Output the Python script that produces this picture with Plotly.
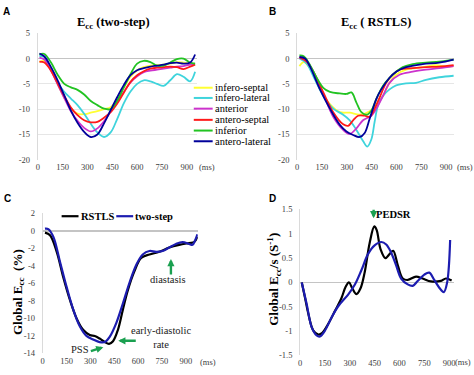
import plotly.graph_objects as go

W, H = 474, 375

# ---------------- Data ----------------
# Panel A : Ecc (two-step), per segment (ms, %)
a_ms = [10, 40, 80, 120, 160, 200, 240, 280, 320, 360, 400, 440, 480, 520, 560, 600, 640, 680, 720, 760, 800, 840, 880, 920, 950]
a_septal = [-0.7, -0.5, -2.2, -5.0, -7.7, -9.8, -10.9, -11.0, -10.7, -10.4, -10.0, -9.6, -8.0, -5.7, -3.6, -2.3, -1.7, -1.4, -1.3, -1.2, -1.0, -0.7, -0.8, -1.0, -1.1]
a_inflat = [0.5, 0.3, -2.0, -4.8, -6.6, -7.9, -9.2, -10.9, -12.9, -14.6, -15.5, -14.6, -11.9, -8.8, -6.5, -5.0, -4.3, -4.5, -5.0, -5.4, -4.3, -3.1, -3.6, -4.5, -2.6]
a_anterior = [0.2, -0.2, -2.4, -5.1, -7.8, -10.4, -12.3, -13.7, -14.4, -13.8, -12.4, -10.5, -8.6, -6.6, -4.7, -3.5, -2.7, -2.4, -2.2, -2.0, -1.8, -1.6, -1.5, -1.2, -1.0]
a_anteroseptal = [-0.6, -0.8, -2.4, -4.9, -7.4, -9.7, -11.2, -12.2, -12.6, -12.5, -11.7, -10.6, -8.9, -6.7, -4.6, -3.3, -2.5, -2.0, -1.8, -1.7, -1.6, -1.7, -2.1, -1.6, -1.2]
a_inferior = [0.8, 0.9, -0.8, -3.2, -5.0, -5.7, -6.2, -7.1, -8.4, -9.2, -9.9, -10.0, -8.3, -5.7, -3.1, -1.0, -0.45, -0.7, -1.4, -1.4, -0.8, -0.1, 0.0, -0.8, -1.0]
a_anterolateral = [1.0, 0.4, -1.7, -4.3, -7.3, -10.3, -12.7, -14.5, -15.5, -15.0, -12.8, -10.2, -7.6, -5.2, -3.3, -2.3, -1.9, -1.6, -1.4, -1.2, -0.9, -0.8, -1.0, -0.8, 0.8]

# Panel B : Ecc (RSTLS)
b_septal_ms = [14, 40, 78, 138, 198, 258, 318, 378, 438, 478, 518, 558, 598, 658, 758, 838, 898, 945]
b_septal = [-1.5, -0.7, -1.9, -6.1, -9.0, -10.6, -10.7, -11.1, -10.4, -9.0, -7.4, -4.8, -3.2, -2.2, -1.7, -1.3, -1.6, -1.5]
b_inflat_ms = [14, 58, 98, 158, 218, 278, 318, 358, 398, 424, 448, 468, 488, 518, 558, 598, 658, 718, 778, 858, 945]
b_inflat = [0.0, -1.0, -3.5, -7.4, -9.9, -11.1, -12.2, -14.1, -16.3, -17.4, -16.0, -12.5, -9.3, -7.4, -6.1, -5.3, -4.9, -4.8, -4.2, -3.7, -3.4]
b_anterior_ms = [14, 58, 98, 158, 218, 278, 318, 358, 398, 448, 478, 518, 558, 618, 698, 778, 858, 945]
b_anterior = [0.2, -0.6, -2.6, -7.0, -11.5, -14.1, -14.9, -13.8, -12.2, -11.3, -9.9, -7.4, -4.8, -3.2, -2.6, -2.2, -1.9, -1.5]
b_antsep_ms = [14, 58, 98, 158, 218, 278, 308, 338, 368, 408, 438, 468, 498, 538, 578, 618, 698, 778, 858, 945]
b_antsep = [0.2, -0.6, -2.6, -6.7, -10.6, -13.0, -13.3, -12.2, -11.3, -11.3, -11.5, -9.9, -7.7, -4.8, -3.2, -2.2, -1.9, -1.7, -1.6, -1.3]
b_inferior_ms = [14, 40, 78, 118, 158, 198, 258, 298, 328, 358, 388, 418, 448, 478, 518, 558, 598, 638, 698, 778, 858, 945]
b_inferior = [0.6, 0.45, -1.3, -3.8, -5.8, -6.6, -6.9, -7.0, -6.7, -8.7, -10.6, -11.1, -10.3, -8.0, -5.4, -3.8, -2.6, -1.7, -1.1, -0.8, -0.6, -0.2]
b_antlat_ms = [14, 48, 78, 138, 198, 258, 298, 338, 378, 408, 438, 478, 508, 558, 598, 658, 758, 858, 945]
b_antlat = [0.3, 0.0, -1.6, -6.1, -9.9, -13.1, -14.4, -15.1, -15.5, -14.7, -11.9, -8.0, -6.1, -3.8, -2.6, -1.7, -1.1, -0.8, -0.2]

# Panel C : Global Ecc (%)
c_rstls_ms = [14, 46, 88, 129, 171, 213, 254, 296, 327, 358, 390, 417, 442, 473, 504, 535, 577, 619, 671, 733, 796, 858, 921, 952, 973]
c_rstls = [-0.2, -0.5, -2.4, -5.3, -7.9, -10.0, -11.3, -11.9, -12.0, -12.3, -12.7, -12.9, -12.6, -11.3, -9.0, -6.8, -4.6, -3.1, -2.7, -2.4, -1.9, -1.6, -1.4, -1.3, -0.7]
c_two_ms = [14, 35, 67, 108, 150, 192, 233, 275, 317, 358, 390, 421, 463, 504, 546, 588, 629, 671, 713, 754, 796, 838, 879, 921, 942, 958, 973]
c_two = [0.25, 0.2, -0.7, -3.5, -6.4, -9.0, -10.9, -12.0, -12.4, -12.7, -12.7, -12.1, -10.5, -8.3, -5.9, -3.9, -2.7, -2.3, -2.4, -2.3, -1.9, -1.5, -1.3, -1.5, -1.6, -1.1, -0.4]

# Panel D : Global Ecc/s (S^-1)
d_rstls_ms = [10, 30, 50, 80, 110, 130, 170, 210, 250, 275, 295, 315, 340, 365, 390, 420, 448, 462, 486, 515, 540, 562, 590, 620, 650, 700, 740, 790, 850, 880, 915]
d_rstls = [0.0, -0.32, -0.65, -0.99, -1.07, -1.05, -0.85, -0.59, -0.32, -0.09, 0.0, -0.12, -0.24, -0.12, 0.21, 0.81, 1.15, 1.08, 0.68, 0.5, 0.58, 0.65, 0.35, 0.08, 0.05, 0.12, 0.08, 0.02, 0.03, 0.08, 0.04]
d_two_ms = [10, 40, 70, 100, 120, 150, 190, 230, 290, 330, 370, 410, 450, 490, 520, 550, 580, 610, 650, 680, 710, 750, 780, 810, 850, 868, 888, 906]
d_two = [0.0, -0.45, -0.92, -1.09, -1.11, -0.99, -0.72, -0.49, -0.25, -0.05, 0.25, 0.58, 0.76, 0.83, 0.78, 0.61, 0.35, 0.08, -0.04, -0.07, 0.03, 0.16, 0.2, 0.05, -0.15, -0.2, 0.0, 0.87]

segment_names = ["infero-septal", "infero-lateral", "anterior", "antero-septal", "inferior", "antero-lateral"]
segment_colors = ["#FFFF33", "#3FD4DC", "#CC33CC", "#FF1A1A", "#22C322", "#00009A"]
method_names = ["RSTLS", "two-step"]
method_colors = ["#000000", "#1C1CB0"]

ab_yticks = [5, 0, -5, -10, -15, -20]
c_yticks = [2, 0, -2, -4, -6, -8, -10, -12, -14]
d_yticks = [1.5, 1, 0.5, 0, -0.5, -1, -1.5]
ms_ticks = [0, 150, 300, 450, 600, 750, 900]

# ---------------- Figure ----------------
fig = go.Figure()

def px(x):
    return x / W

def py(y):
    return 1 - y / H

A_series = [(a_ms, a_septal), (a_ms, a_inflat), (a_ms, a_anterior),
            (a_ms, a_anteroseptal), (a_ms, a_inferior), (a_ms, a_anterolateral)]
B_series = [(b_septal_ms, b_septal), (b_inflat_ms, b_inflat), (b_anterior_ms, b_anterior),
            (b_antsep_ms, b_antsep), (b_inferior_ms, b_inferior), (b_antlat_ms, b_antlat)]

for (xs, ys), name, col in zip(A_series, segment_names, segment_colors):
    fig.add_trace(go.Scatter(x=xs, y=ys, mode="lines", name=name, showlegend=False,
                             line=dict(color=col, width=1.8, shape="spline"), xaxis="x", yaxis="y"))
for (xs, ys), name, col in zip(B_series, segment_names, segment_colors):
    fig.add_trace(go.Scatter(x=xs, y=ys, mode="lines", name=name, showlegend=False,
                             line=dict(color=col, width=1.8, shape="spline"), xaxis="x2", yaxis="y2"))

fig.add_trace(go.Scatter(x=c_rstls_ms, y=c_rstls, mode="lines", name=method_names[0], showlegend=False,
                         line=dict(color=method_colors[0], width=2.2, shape="spline"), xaxis="x3", yaxis="y3"))
fig.add_trace(go.Scatter(x=c_two_ms, y=c_two, mode="lines", name=method_names[1], showlegend=False,
                         line=dict(color=method_colors[1], width=2.2, shape="spline"), xaxis="x3", yaxis="y3"))
fig.add_trace(go.Scatter(x=d_rstls_ms, y=d_rstls, mode="lines", name=method_names[0], showlegend=False,
                         line=dict(color=method_colors[0], width=2.2, shape="spline"), xaxis="x4", yaxis="y4"))
fig.add_trace(go.Scatter(x=d_two_ms, y=d_two, mode="lines", name=method_names[1], showlegend=False,
                         line=dict(color=method_colors[1], width=2.2, shape="spline"), xaxis="x4", yaxis="y4"))

serif = "Liberation Serif, Times New Roman, serif"
tickfont = dict(family=serif, size=8.5, color="#404040")

def xax(dom, rng, anchor):
    return dict(domain=dom, range=rng, anchor=anchor, tickvals=ms_ticks, ticktext=[str(t) for t in ms_ticks],
                showgrid=False, zeroline=False, showline=False, ticks="", tickfont=tickfont,
                ticklabelstandoff=1, fixedrange=True)

def yax(dom, rng, anchor, vals, grid):
    return dict(domain=dom, range=rng, anchor=anchor, tickvals=vals, ticktext=["%g" % v for v in vals],
                showgrid=grid, gridcolor="#E6E6E6", gridwidth=1,
                zeroline=True, zerolinecolor="#C4C4C4", zerolinewidth=1.5,
                showline=True, linecolor="#DADADA", linewidth=1, ticks="", tickfont=tickfont,
                ticklabelstandoff=5, fixedrange=True)

fig.update_layout(
    width=W, height=H, autosize=False,
    margin=dict(l=0, r=0, t=0, b=0),
    paper_bgcolor="white", plot_bgcolor="white",
    showlegend=False,
    xaxis=xax([px(36), px(196)], [0, 960], "y"),
    yaxis=yax([py(159), py(29)], [-20, 5], "x", ab_yticks, True),
    xaxis2=xax([px(297), px(455)], [0, 948], "y2"),
    yaxis2=yax([py(159), py(29)], [-20, 5], "x2", ab_yticks, True),
    xaxis3=xax([px(41), px(197)], [0, 975], "y3"),
    yaxis3=yax([py(358), py(214)], [-14, 2], "x3", c_yticks, False),
    xaxis4=xax([px(300), px(455)], [0, 930], "y4"),
    yaxis4=yax([py(360), py(210)], [-1.5, 1.5], "x4", d_yticks, False),
)

ann = []

def text(x, y, s, size=10, bold=False, color="#1a1a1a", xanchor="center", angle=0, fam=None):
    ann.append(dict(x=px(x), y=py(y), xref="paper", yref="paper", text=("<b>%s</b>" % s) if bold else s,
                    showarrow=False, xanchor=xanchor, yanchor="middle", textangle=angle,
                    font=dict(family=fam or serif, size=size, color=color)))

# panel letters
for L, (x, y) in zip("ABCD", [(5, 7), (272, 7), (6, 199), (272, 199)]):
    text(x, y, L, size=10, bold=True, color="#000000", fam="Liberation Sans, Arial, sans-serif")

# titles
text(112, 19, "E<sub>cc</sub> (two-step)", size=12.5, bold=True, color="#000000")
text(376, 19, "E<sub>cc</sub> ( RSTLS)", size=12.5, bold=True, color="#000000")

# (ms) labels
text(196, 166, "(ms)", size=8.5, xanchor="left", color="#404040")
text(456, 166, "(ms)", size=8.5, xanchor="left", color="#404040")
text(197, 367, "(ms)", size=8.5, xanchor="left", color="#404040")
text(474, 367, "(ms)", size=8.5, xanchor="right", color="#404040")

# y axis titles
text(16, 295, "Global E<sub>cc</sub>  (%)", size=13, bold=True, color="#000000", angle=-90)
text(274, 282, "Global E<sub>cc</sub>/s (S<sup>-1</sup>)", size=13, bold=True, color="#000000", angle=-90)

# legend A (manual)
shapes = []
leg_y = [85, 95.5, 106.5, 118, 129, 140]
for name, col, yy in zip(segment_names, segment_colors, leg_y):
    shapes.append(dict(type="line", xref="paper", yref="paper", x0=px(193), x1=px(212), y0=py(yy), y1=py(yy),
                       line=dict(color=col, width=2)))
    text(212, yy, name, size=10.5, xanchor="left", color="#000000")

# legend C (manual)
for name, col, x0 in zip(method_names, method_colors, [60, 115]):
    shapes.append(dict(type="line", xref="paper", yref="paper", x0=px(x0), x1=px(x0 + 17), y0=py(217), y1=py(217),
                       line=dict(color=col, width=2.2)))
    text(x0 + 17, 217, name, size=10.5, bold=True, xanchor="left", color="#000000")

# annotations in C and D
text(167, 282, "diastasis", size=10.5, color="#1a1a1a")
text(160, 342, "early-diastolic<br>rate", size=10.5, color="#1a1a1a")
text(78, 354, "PSS", size=10.5, color="#1a1a1a")
text(394, 215, "PEDSR", size=10.5, bold=True, color="#000000")

green = "#1AA050"
def arrow(x0, y0, x1, y1):
    # tail (x0,y0) -> tip (x1,y1), pixel coords of the page
    ann.append(dict(x=px(x1), y=py(y1), xref="paper", yref="paper", ax=x0 - x1, ay=y0 - y1,
                    axref="pixel", ayref="pixel", text="", showarrow=True, arrowhead=2,
                    arrowsize=0.6, arrowwidth=2.4, arrowcolor=green))

arrow(170, 278, 170, 261)
arrow(136, 345, 117, 345)
arrow(88, 356, 102, 351.5)
arrow(374, 209, 374, 219)

fig.update_layout(annotations=ann, shapes=shapes)
fig.write_html("out.html",
               config={"displayModeBar": False, "staticPlot": True},
               post_script="document.body.style.margin='0';document.body.style.padding='0';"
                           "document.body.style.overflow='hidden';")
